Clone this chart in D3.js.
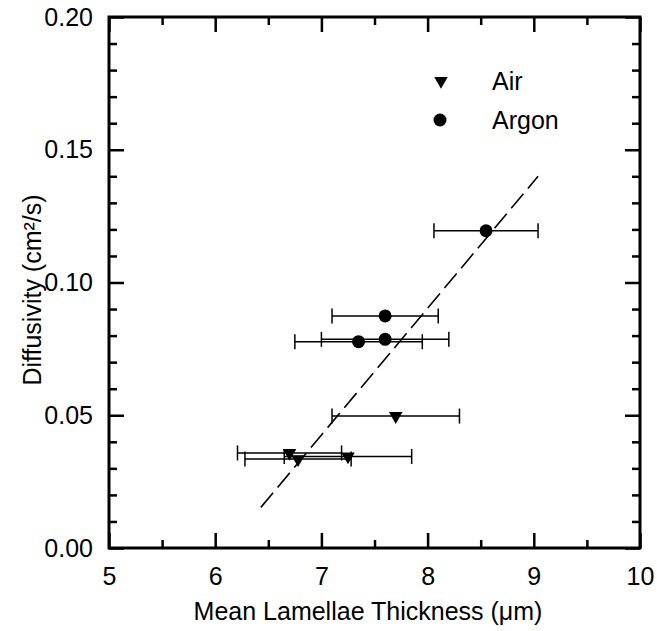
<!DOCTYPE html>
<html>
<head>
<meta charset="utf-8">
<script src="https://cdn.jsdelivr.net/npm/d3@7"></script>
<style>
body { margin: 0; background: #fff; }
text { font-family: "Liberation Sans", Arial, sans-serif; fill: #000; }
</style>
</head>
<body>
<svg width="657" height="631"></svg>
<script>
// data
var airX = [6.70, 6.78, 7.25, 7.70];
var airY = [0.0358, 0.0335, 0.0345, 0.0497];
var airErr = [0.49, 0.50, 0.60, 0.60];

var argonX = [7.35, 7.60, 7.60, 8.55];
var argonY = [0.0777, 0.0786, 0.0874, 0.1195];
var argonErr = [0.60, 0.60, 0.50, 0.49];

var fitX = [6.43, 9.04];
var fitY = [0.0153, 0.140];

var xTicks = [5, 6, 7, 8, 9, 10];
var yTicks = [0, 0.05, 0.10, 0.15, 0.20];

var air = [], argon = [];
for (var i = 0; i < airX.length; i++) air.push([airX[i], airY[i], airErr[i]]);
for (var i = 0; i < argonX.length; i++) argon.push([argonX[i], argonY[i], argonErr[i]]);

var svg = d3.select("svg");
var x = d3.scaleLinear().domain([5, 10]).range([109, 640]);
var y = d3.scaleLinear().domain([0, 0.2]).range([548, 17]);

var xMinor = d3.range(5.5, 10, 1);
var yMinor = d3.range(0, 0.2001, 0.01).filter(function(v){ return Math.round(v * 100) % 5 != 0; });

// axes, ticks pointing inward on all four sides
function styleAxis(g) {
  g.select(".domain").remove();
  g.selectAll("line").attr("stroke", "#000").attr("stroke-width", 2.5);
  g.selectAll("text").style("font-size", "25px").attr("fill", "#000");
}

svg.append("g").attr("transform", "translate(0,548)")
  .call(d3.axisBottom(x).tickValues(xTicks).tickFormat(d3.format("d")).tickSizeInner(-15).tickSizeOuter(0).tickPadding(19))
  .call(styleAxis);
svg.append("g").attr("transform", "translate(0,548)")
  .call(d3.axisBottom(x).tickValues(xMinor).tickFormat("").tickSizeInner(-8).tickSizeOuter(0))
  .call(styleAxis);
svg.append("g").attr("transform", "translate(0,17)")
  .call(d3.axisTop(x).tickValues(xTicks).tickFormat("").tickSizeInner(-15).tickSizeOuter(0))
  .call(styleAxis);
svg.append("g").attr("transform", "translate(0,17)")
  .call(d3.axisTop(x).tickValues(xMinor).tickFormat("").tickSizeInner(-8).tickSizeOuter(0))
  .call(styleAxis);

svg.append("g").attr("transform", "translate(109,0)")
  .call(d3.axisLeft(y).tickValues(yTicks).tickFormat(d3.format(".2f")).tickSizeInner(-15).tickSizeOuter(0).tickPadding(16))
  .call(styleAxis);
svg.append("g").attr("transform", "translate(109,0)")
  .call(d3.axisLeft(y).tickValues(yMinor).tickFormat("").tickSizeInner(-8).tickSizeOuter(0))
  .call(styleAxis);
svg.append("g").attr("transform", "translate(640,0)")
  .call(d3.axisRight(y).tickValues(yTicks).tickFormat("").tickSizeInner(-15).tickSizeOuter(0))
  .call(styleAxis);
svg.append("g").attr("transform", "translate(640,0)")
  .call(d3.axisRight(y).tickValues(yMinor).tickFormat("").tickSizeInner(-8).tickSizeOuter(0))
  .call(styleAxis);

// frame
svg.append("rect").attr("x", x(5)).attr("y", y(0.2))
  .attr("width", x(10) - x(5)).attr("height", y(0) - y(0.2))
  .attr("fill", "none").attr("stroke", "#000").attr("stroke-width", 3);

// fitted dashed line
svg.append("line")
  .attr("x1", x(fitX[0])).attr("y1", y(fitY[0]))
  .attr("x2", x(fitX[1])).attr("y2", y(fitY[1]))
  .attr("stroke", "#000").attr("stroke-width", 1.6).attr("stroke-dasharray", "19,7");

// error bars
function errorBars(data) {
  var g = svg.append("g").attr("stroke", "#000").attr("stroke-width", 1.5);
  data.forEach(function(d) {
    g.append("line").attr("x1", x(d[0] - d[2])).attr("x2", x(d[0] + d[2])).attr("y1", y(d[1])).attr("y2", y(d[1]));
    g.append("line").attr("x1", x(d[0] - d[2])).attr("x2", x(d[0] - d[2])).attr("y1", y(d[1]) - 7.5).attr("y2", y(d[1]) + 7.5);
    g.append("line").attr("x1", x(d[0] + d[2])).attr("x2", x(d[0] + d[2])).attr("y1", y(d[1]) - 7.5).attr("y2", y(d[1]) + 7.5);
  });
}
errorBars(air);
errorBars(argon);

var tri = d3.symbol().type(d3.symbolTriangle).size(80);

svg.selectAll(".air").data(air).enter().append("path")
  .attr("d", tri)
  .attr("transform", function(d){ return "translate(" + x(d[0]) + "," + y(d[1]) + ") rotate(180)"; })
  .attr("fill", "#000");

svg.selectAll(".argon").data(argon).enter().append("circle")
  .attr("cx", function(d){ return x(d[0]); })
  .attr("cy", function(d){ return y(d[1]); })
  .attr("r", 6.5).attr("fill", "#000");

// legend
svg.append("path").attr("d", tri).attr("transform", "translate(441,81) rotate(180)").attr("fill", "#000");
svg.append("text").attr("x", 492).attr("y", 81).attr("dy", "0.35em").style("font-size", "25px").text("Air");
svg.append("circle").attr("cx", 440).attr("cy", 120).attr("r", 6.5).attr("fill", "#000");
svg.append("text").attr("x", 492).attr("y", 120).attr("dy", "0.35em").style("font-size", "25px").text("Argon");

// axis titles
svg.append("text")
  .attr("x", 368).attr("y", 620)
  .style("text-anchor", "middle").style("font-size", "25px")
  .text("Mean Lamellae Thickness (μm)");

svg.append("text")
  .attr("transform", "translate(41,290) rotate(-90)")
  .style("text-anchor", "middle").style("font-size", "25px")
  .text("Diffusivity (cm²/s)");
</script>
</body>
</html>
